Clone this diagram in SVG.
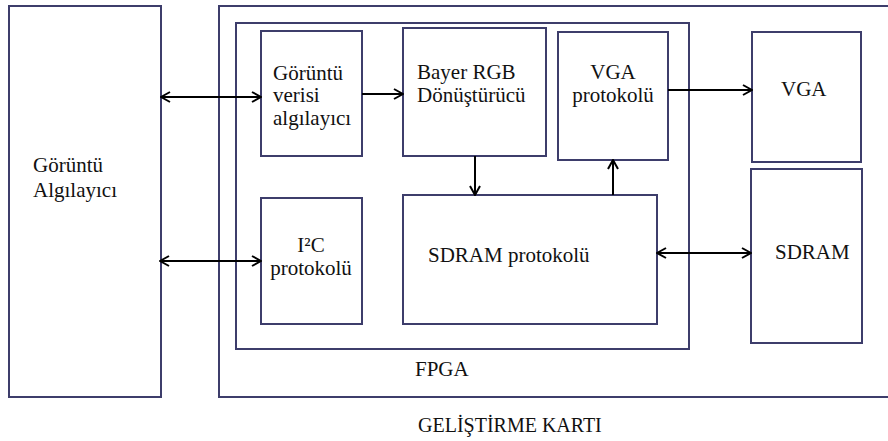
<svg xmlns="http://www.w3.org/2000/svg" width="888" height="441" viewBox="0 0 888 441">
  <style>
    .box { fill: #ffffff; stroke: #3d3d6b; stroke-width: 2; }
    .frame { fill: none; stroke: #3d3d6b; stroke-width: 2; }
    .lbl { font-family: "Liberation Serif", "Times New Roman", serif; font-size: 21px; fill: #111111; }
    .mid { text-anchor: middle; }
    .wire { fill: none; stroke: #000000; stroke-width: 2; marker-end: url(#head); }
    .both { marker-start: url(#tail); }
  </style>
  <defs>
    <marker id="head" viewBox="0 0 12 12" refX="11" refY="6" markerWidth="12" markerHeight="12" markerUnits="userSpaceOnUse" orient="auto">
      <path d="M2,1 L11,6 L2,11" fill="none" stroke="#000000" stroke-width="2"/>
    </marker>
    <marker id="tail" viewBox="0 0 12 12" refX="1" refY="6" markerWidth="12" markerHeight="12" markerUnits="userSpaceOnUse" orient="auto">
      <path d="M10,1 L1,6 L10,11" fill="none" stroke="#000000" stroke-width="2"/>
    </marker>
  </defs>

  <!-- development board outline (open to the right) -->
  <g id="board">
    <rect class="frame" x="219" y="6" width="680" height="391"/>
    <text class="lbl" x="418" y="432" style="font-size:20px">GELİŞTİRME KARTI</text>
  </g>

  <!-- image sensor -->
  <g id="sensor">
    <rect class="box" x="9" y="6" width="152" height="391"/>
    <text class="lbl" x="33" y="172">Görüntü</text>
    <text class="lbl" x="33" y="197">Algılayıcı</text>
  </g>

  <!-- FPGA -->
  <g id="fpga">
    <rect class="frame" x="236" y="23" width="453" height="326"/>
    <text class="lbl" x="415" y="376">FPGA</text>
  </g>

  <g id="capture">
    <rect class="box" x="261" y="31" width="101" height="125"/>
    <text class="lbl" x="273" y="80">Görüntü</text>
    <text class="lbl" x="273" y="102">verisi</text>
    <text class="lbl" x="273" y="125">algılayıcı</text>
  </g>

  <g id="bayer">
    <rect class="box" x="403" y="28" width="143" height="128"/>
    <text class="lbl" x="417" y="79">Bayer RGB</text>
    <text class="lbl" x="417" y="102">Dönüştürücü</text>
  </g>

  <g id="vga-proto">
    <rect class="box" x="558" y="32" width="110" height="128"/>
    <text class="lbl mid" x="613" y="79">VGA</text>
    <text class="lbl mid" x="613" y="102">protokolü</text>
  </g>

  <g id="i2c">
    <rect class="box" x="261" y="198" width="101" height="126"/>
    <text class="lbl mid" x="311" y="252">I²C</text>
    <text class="lbl mid" x="311" y="275">protokolü</text>
  </g>

  <g id="sdram-proto">
    <rect class="box" x="403" y="195" width="254" height="129"/>
    <text class="lbl" x="428" y="262">SDRAM protokolü</text>
  </g>

  <g id="vga">
    <rect class="box" x="752" y="32" width="109" height="130"/>
    <text class="lbl" x="781" y="96">VGA</text>
  </g>

  <g id="sdram">
    <rect class="box" x="751" y="169" width="111" height="174"/>
    <text class="lbl" x="775" y="259">SDRAM</text>
  </g>

  <!-- connectors -->
  <g id="connectors">
    <line class="wire both" x1="161" y1="97" x2="261" y2="97"/>
    <line class="wire" x1="362" y1="94" x2="403" y2="94"/>
    <line class="wire" x1="475" y1="156" x2="475" y2="195"/>
    <line class="wire" x1="613" y1="195" x2="613" y2="160"/>
    <line class="wire" x1="668" y1="90" x2="752" y2="90"/>
    <line class="wire both" x1="160" y1="261" x2="261" y2="261"/>
    <line class="wire both" x1="657" y1="253" x2="751" y2="253"/>
  </g>
</svg>
